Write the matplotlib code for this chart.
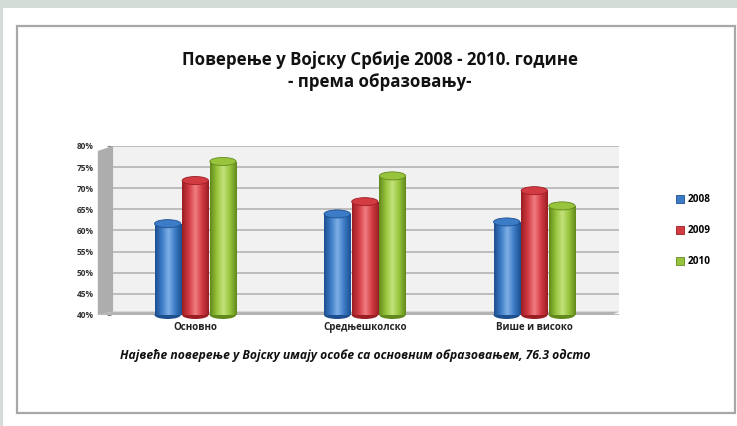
import numpy as np
import matplotlib.pyplot as plt
from matplotlib.patches import Ellipse, Rectangle, Polygon
from matplotlib.colors import LinearSegmentedColormap

categories = ['Основно', 'Средњешколско', 'Више и високо']
years = ['2008', '2009', '2010']
v2008 = [61.6, 63.9, 62.0]
v2009 = [71.8, 66.8, 69.4]
v2010 = [76.3, 72.9, 65.8]
yticks = [40, 45, 50, 55, 60, 65, 70, 75, 80]

series = [v2008, v2009, v2010]
# dark edge, light highlight, mid colour
colors = [('#1d4f8f', '#7fb0e6', '#3c7cc6'),
          ('#9a1e24', '#f07e82', '#d23b42'),
          ('#62891c', '#c4e27c', '#97c43c')]

plt.rcParams['font.family'] = ['Open Sans', 'DejaVu Sans']

fig = plt.figure(figsize=(7.37, 4.26), dpi=100)
fig.patch.set_facecolor('#d4dcd7')
# white card and thin grey frame
fig.patches.append(Rectangle((3 / 737, 0), 1, 1 - 8 / 426, transform=fig.transFigure,
                             facecolor='white', edgecolor='none', zorder=-2))
fig.patches.append(Rectangle((17 / 737, 1 - 413 / 426), 718 / 737, 387 / 426,
                             transform=fig.transFigure, facecolor='none',
                             edgecolor='#a8a8a8', lw=1.6, zorder=-1))

ax = fig.add_axes([0.150, 0.2606, 0.690, 0.397])
ax.set_facecolor('#f1f1f1')
for s in ax.spines.values():
    s.set_visible(False)
ax.set_yticks(yticks)
ax.set_yticklabels([f'{t}%' for t in yticks], fontsize=6, fontweight='bold', color='#333333')
ax.set_xticks(range(len(categories)))
ax.set_xticklabels(categories, fontsize=7, fontweight='bold', color='#222222')
ax.tick_params(axis='y', length=3, color='#888888', pad=9)
ax.tick_params(axis='x', length=0, pad=5)
ax.grid(axis='y', color='#b4b4b4', lw=1.2)
ax.set_axisbelow(True)

# left wall and floor for the 3D look
ax.add_patch(Polygon([(-0.025, 0), (0.005, 0.02), (0.005, 1.0), (-0.025, 0.97)], closed=True,
                     transform=ax.transAxes, facecolor='#adadad', edgecolor='none',
                     clip_on=False, zorder=1))
ax.add_patch(Polygon([(-0.025, 0), (0.985, 0), (1.0, 0.02), (0.005, 0.02)], closed=True,
                     transform=ax.transAxes, facecolor='#b3b3b3', edgecolor='none',
                     clip_on=False, zorder=1))

width = 0.155
offsets = [-0.163, 0.0, 0.163]
x = np.arange(len(categories))
grad = np.linspace(0, 1, 64).reshape(1, -1)
ell_h = 1.9

for i, vals in enumerate(series):
    dark, light, mid = colors[i]
    cmap = LinearSegmentedColormap.from_list('c%d' % i, [dark, mid, light, mid, dark])
    bars = ax.bar(x + offsets[i], [v - 40 for v in vals], width, bottom=40,
                  color=mid, label=years[i], zorder=3)
    for b, v in zip(bars, vals):
        x0 = b.get_x()
        im = ax.imshow(grad, extent=[x0, x0 + width, 40, v], aspect='auto',
                       cmap=cmap, zorder=3)
        im.set_clip_path(b)
        b.set_facecolor('none')
        ax.add_patch(Ellipse((x0 + width / 2, 40), width, ell_h, facecolor=dark,
                             edgecolor='none', zorder=2.9, clip_on=False))
        ax.add_patch(Ellipse((x0 + width / 2, v), width, ell_h, facecolor=mid,
                             edgecolor=dark, lw=0.6, zorder=4, clip_on=False))
ax.set_xlim(-0.5, 2.5)
ax.set_ylim(40, 80)

handles = [Rectangle((0, 0), 1, 1, facecolor=c[2], edgecolor=c[0], lw=0.6) for c in colors]
leg = fig.legend(handles, years, loc='upper left', bbox_to_anchor=(0.905, 0.565),
                 frameon=False, fontsize=7.2, handlelength=0.8, handleheight=0.8,
                 labelspacing=2.0, handletextpad=0.4)
for t in leg.get_texts():
    t.set_fontweight('bold')

fig.text(0.515, 1 - 60 / 426, 'Поверење у Војску Србије 2008 - 2010. године',
         ha='center', va='center', fontsize=12.2, fontweight='bold', color='#111111')
fig.text(0.515, 1 - 82 / 426, '- према образовању-',
         ha='center', va='center', fontsize=12.2, fontweight='bold', color='#111111')
fig.text(0.482, 1 - 355 / 426,
         'Највеће поверење у Војску имају особе са основним образовањем, 76.3 одсто',
         ha='center', va='center', fontsize=8.7, fontweight='bold', style='italic',
         color='#111111')

fig.savefig('out.png', dpi=100, facecolor=fig.get_facecolor())
